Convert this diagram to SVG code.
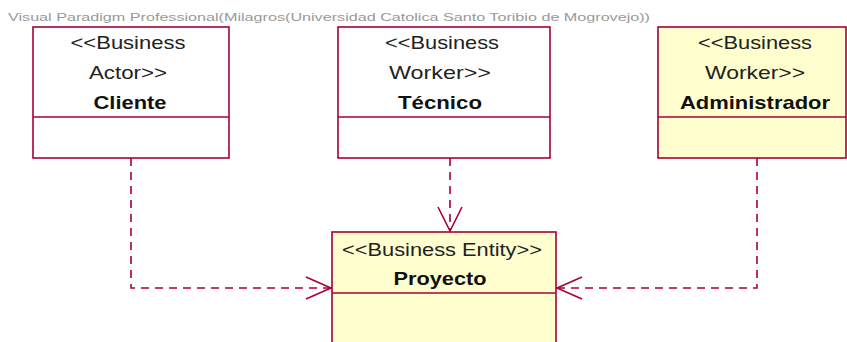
<svg xmlns="http://www.w3.org/2000/svg" width="847" height="342" viewBox="0 0 847 342">
<style>
.box{stroke:#A80036;stroke-width:1.6}
.w{fill:#FFFFFF}
.y{fill:#FEFECE}
.t{font-family:"Liberation Sans",Arial,sans-serif;font-size:19px;fill:#222;text-anchor:middle}
.b{font-weight:bold;fill:#111}
.wm{font-family:"Liberation Sans",Arial,sans-serif;font-size:11.5px;fill:#999}
.c{fill:none;stroke:#A80036;stroke-width:1.6;stroke-dasharray:8,6}
.h{fill:none;stroke:#A80036;stroke-width:1.6}
</style>
<rect width="847" height="342" fill="#FFFFFF"/>
<text class="wm" x="8" y="21" textLength="642" lengthAdjust="spacingAndGlyphs">Visual Paradigm Professional(Milagros(Universidad Catolica Santo Toribio de Mogrovejo))</text>
<g id="cliente">
<rect class="box w" x="33" y="27" width="196" height="131"/>
<line class="box" x1="33" y1="117" x2="229" y2="117"/>
<text class="t" x="128" y="49" textLength="115" lengthAdjust="spacingAndGlyphs">&lt;&lt;Business</text>
<text class="t" x="128" y="79" textLength="78" lengthAdjust="spacingAndGlyphs">Actor&gt;&gt;</text>
<text class="t b" x="130" y="109" textLength="73" lengthAdjust="spacingAndGlyphs">Cliente</text>
</g>
<g id="tecnico">
<rect class="box w" x="338" y="27" width="212" height="131"/>
<line class="box" x1="338" y1="117" x2="550" y2="117"/>
<text class="t" x="442" y="49" textLength="114" lengthAdjust="spacingAndGlyphs">&lt;&lt;Business</text>
<text class="t" x="440" y="79" textLength="102" lengthAdjust="spacingAndGlyphs">Worker&gt;&gt;</text>
<text class="t b" x="440" y="109" textLength="84" lengthAdjust="spacingAndGlyphs">Técnico</text>
</g>
<g id="administrador">
<rect class="box y" x="658" y="27" width="188" height="131"/>
<line class="box" x1="658" y1="117" x2="846" y2="117"/>
<text class="t" x="755" y="49" textLength="114" lengthAdjust="spacingAndGlyphs">&lt;&lt;Business</text>
<text class="t" x="755" y="79" textLength="100" lengthAdjust="spacingAndGlyphs">Worker&gt;&gt;</text>
<text class="t b" x="755" y="109" textLength="150" lengthAdjust="spacingAndGlyphs">Administrador</text>
</g>
<g id="proyecto">
<rect class="box y" x="332" y="232" width="224" height="120"/>
<line class="box" x1="332" y1="293" x2="556" y2="293"/>
<text class="t" x="442" y="256" textLength="200" lengthAdjust="spacingAndGlyphs">&lt;&lt;Business Entity&gt;&gt;</text>
<text class="t b" x="440" y="285" textLength="93" lengthAdjust="spacingAndGlyphs">Proyecto</text>
</g>
<g id="connectors">
<polyline class="c" points="131,158 131,288 331,288"/>
<polyline class="h" points="306,277 331,288 306,299"/>
<line class="c" x1="450" y1="158" x2="450" y2="231"/>
<polyline class="h" points="438,207 450,231 462,207"/>
<polyline class="c" points="757,158 757,288 557,288"/>
<polyline class="h" points="582,277 557,288 582,299"/>
</g>
</svg>
